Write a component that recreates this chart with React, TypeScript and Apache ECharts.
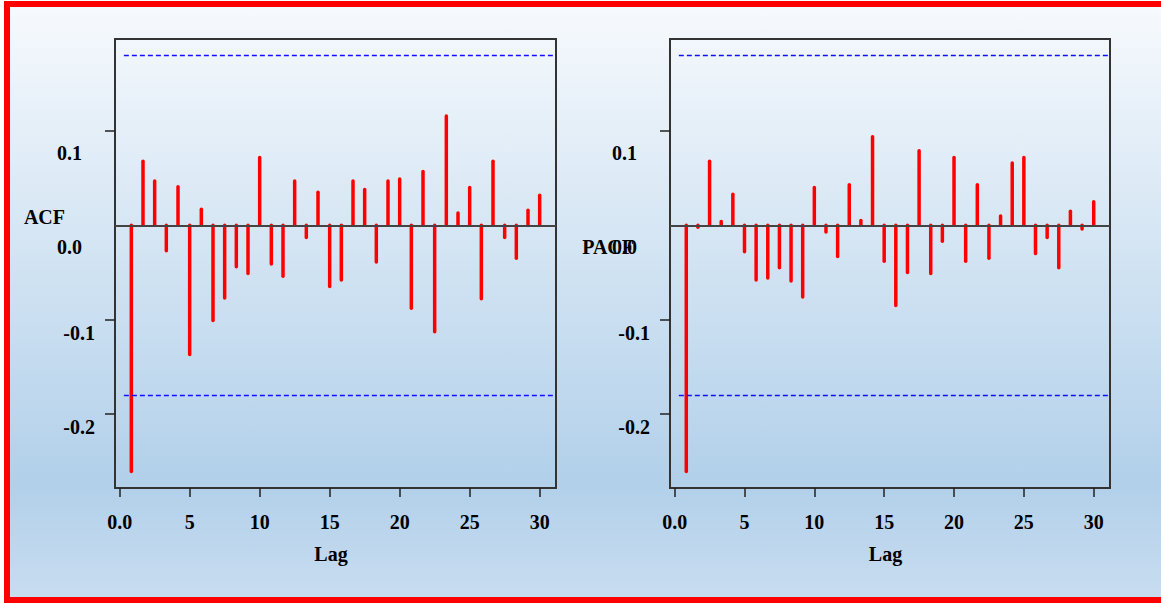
import React, { useEffect, useRef } from "react";
import * as echarts from "echarts";

const lags = [
  0.833, 1.667, 2.5, 3.333, 4.167, 5, 5.833, 6.667, 7.5, 8.333, 9.167, 10,
  10.833, 11.667, 12.5, 13.333, 14.167, 15, 15.833, 16.667, 17.5, 18.333, 19.167, 20,
  20.833, 21.667, 22.5, 23.333, 24.167, 25, 25.833, 26.667, 27.5, 28.333, 29.167, 30,
];
const acfValues = [
  -0.261, 0.068, 0.047, -0.027, 0.041, -0.137, 0.017, -0.101, -0.077, -0.044, -0.051, 0.072,
  -0.041, -0.054, 0.047, -0.013, 0.035, -0.065, -0.058, 0.047, 0.038, -0.039, 0.047, 0.049,
  -0.088, 0.057, -0.113, 0.116, 0.013, 0.04, -0.078, 0.068, -0.013, -0.035, 0.016, 0.032,
];
const pacfValues = [
  -0.261, -0.002, 0.068, 0.004, 0.033, -0.028, -0.058, -0.056, -0.045, -0.059, -0.076, 0.04,
  -0.007, -0.033, 0.043, 0.005, 0.094, -0.038, -0.085, -0.05, 0.079, -0.051, -0.017, 0.072,
  -0.038, 0.043, -0.035, 0.01, 0.066, 0.072, -0.03, -0.013, -0.045, 0.015, -0.004, 0.025,
];
const confBound = 0.18;
const xTickValues = [0, 5, 10, 15, 20, 25, 30];
const xTickLabels = ["0.0", "5", "10", "15", "20", "25", "30"];
const yTickValues = [0.1, -0.1, -0.2];
const yLabelValues = [0.1, 0, -0.1, -0.2];
const yTickLabels = ["0.1", "0.0", "-0.1", "-0.2"];
const panelNames = ["ACF", "PACF"];
const xName = "Lag";

const X_MIN = -0.3333;
const X_MAX = 31.1667;
const Y_MIN = -0.2786;
const Y_MAX = 0.1976;

const FONT = '"Liberation Serif", "Times New Roman", serif';
const txt = { fontSize: 20, fontWeight: "bold", fontFamily: FONT, color: "#000" };

function labelFor(values: number[], labels: string[], v: number) {
  let best = 0;
  for (let i = 0; i < values.length; i++) {
    if (Math.abs(values[i] - v) < Math.abs(values[best] - v)) best = i;
  }
  return labels[best];
}

export default function App() {
  const ref = useRef<HTMLDivElement>(null);
  useEffect(() => {
    if (!ref.current) return;
    const chart = echarts.init(ref.current, null, { renderer: "svg" });
    const grids = [
      { left: 115, top: 39, width: 441, height: 449 },
      { left: 670, top: 39, width: 440, height: 449 },
    ];
    const nameGaps = [50, 36];
    const namePads = [93, 33];
    const seriesData = [acfValues, pacfValues];

    const option: any = {
      animation: false,
      graphic: [
        {
          type: "rect",
          z: -100,
          silent: true,
          shape: { x: 4, y: 1, width: 1161, height: 603 },
          style: {
            fill: new echarts.graphic.LinearGradient(0, 0, 0, 1, [
              { offset: 0, color: "#f7fafd" },
              { offset: 0.8, color: "#b2d0ea" },
              { offset: 1, color: "#c9ddf0" },
            ]),
          },
        },
        {
          type: "rect",
          z: 100,
          silent: true,
          shape: { x: 7, y: 4, width: 1160, height: 596 },
          style: { fill: "none", stroke: "#ff0000", lineWidth: 6 },
        },
      ],
      grid: grids.map((g) => ({
        ...g,
        show: true,
        borderColor: "#333",
        borderWidth: 2,
        backgroundColor: "transparent",
      })),
      xAxis: grids.map((_, i) => ({
        type: "value",
        gridIndex: i,
        min: X_MIN,
        max: X_MAX,
        name: xName,
        nameLocation: "middle",
        nameGap: 56,
        nameMoveOverlap: false,
        nameTextStyle: { ...txt, padding: [0, 9, 0, 0] },
        axisLine: { show: false, onZero: false },
        splitLine: { show: false },
        axisTick: {
          show: true,
          length: 9,
          customValues: xTickValues,
          lineStyle: { color: "#222", width: 1.5 },
        },
        axisLabel: {
          ...txt,
          margin: 24,
          customValues: xTickValues,
          formatter: (v: number) => labelFor(xTickValues, xTickLabels, v),
        },
      })),
      yAxis: grids.map((_, i) => ({
        type: "value",
        gridIndex: i,
        min: Y_MIN,
        max: Y_MAX,
        name: `{t|${panelNames[i]}}`,
        nameLocation: "middle",
        nameRotate: 0,
        nameGap: nameGaps[i],
        nameMoveOverlap: false,
        nameTextStyle: {
          ...txt,
          align: "right",
          verticalAlign: "middle",
          rich: { t: { ...txt, padding: [0, 0, namePads[i], 0] } },
        },
        axisLine: { show: false, onZero: false },
        splitLine: { show: false },
        axisTick: {
          show: true,
          length: 10,
          customValues: yTickValues,
          lineStyle: { color: "#222", width: 1.5 },
        },
        axisLabel: {
          margin: 20,
          customValues: yLabelValues,
          formatter: (v: number) => {
            const l = labelFor(yLabelValues, yTickLabels, v);
            return v >= -0.01 ? `{p|${l}}` : `{n|${l}}`;
          },
          rich: {
            p: { ...txt, padding: [44, 13, 0, 0] },
            n: { ...txt, padding: [26, 0, 0, 0] },
          },
        },
      })),
      series: seriesData.map((vals, i) => ({
        type: "custom",
        xAxisIndex: i,
        yAxisIndex: i,
        data: lags.map((l, j) => [l, vals[j]]),
        encode: { x: 0, y: 1 },
        renderItem: (params: any, api: any) => {
          const p0 = api.coord([api.value(0), 0]);
          const p1 = api.coord([api.value(0), api.value(1)]);
          return {
            type: "line",
            shape: { x1: p0[0], y1: p0[1], x2: p1[0], y2: p1[1] },
            style: { stroke: "#ff0000", lineWidth: 3.5, lineCap: "round" },
          };
        },
        markLine: {
          silent: true,
          symbol: "none",
          label: { show: false },
          data: [
            { yAxis: 0, lineStyle: { color: "#444", width: 2, type: "solid" } },
            [
              { coord: [0.3, confBound], lineStyle: { color: "#1010ff", width: 1.3, type: [5, 3] } },
              { coord: [X_MAX, confBound] },
            ],
            [
              { coord: [0.3, -confBound], lineStyle: { color: "#1010ff", width: 1.3, type: [5, 3] } },
              { coord: [X_MAX, -confBound] },
            ],
          ],
        },
      })),
    };
    chart.setOption(option);
    return () => chart.dispose();
  }, []);
  return (
    <div
      ref={ref}
      style={{ position: "fixed", left: 0, top: 0, width: 1161, height: 603, background: "#fff" }}
    />
  );
}
